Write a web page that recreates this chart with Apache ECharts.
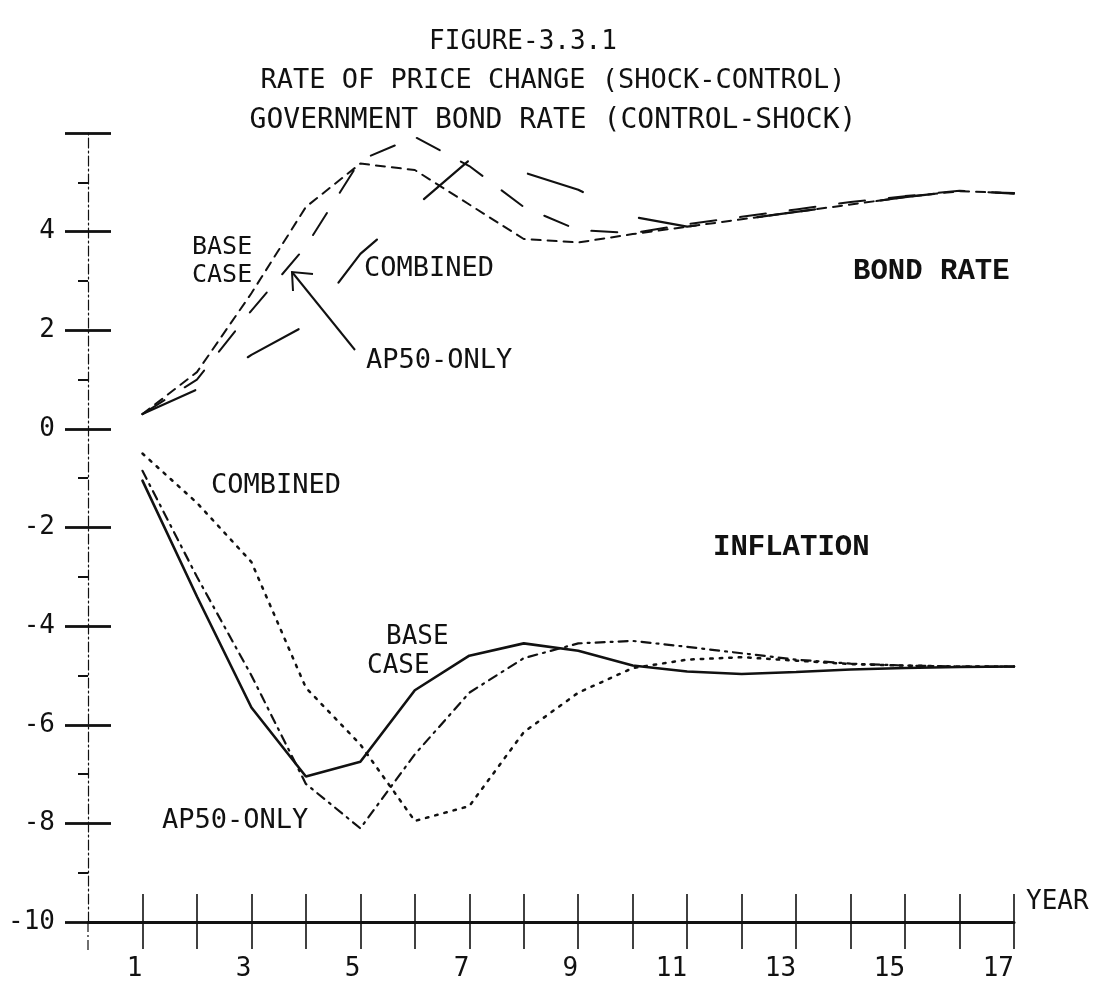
<!DOCTYPE html>
<html>
<head>
<meta charset="utf-8">
<script src="https://cdn.jsdelivr.net/npm/echarts@6/dist/echarts.min.js"></script>
<style>
html,body{margin:0;padding:0;background:#fff;}
#chart{width:1101px;height:984px;}
</style>
</head>
<body>
<div id="chart"></div>
<script>
// ---- data ----
const years = [1,2,3,4,5,6,7,8,9,10,11,12,13,14,15,16,17];
const xTickValues = [1,2,3,4,5,6,7,8,9,10,11,12,13,14,15,16,17];
const xLabelValues = [1,3,5,7,9,11,13,15,17];
const yLabelValues = [-10,-8,-6,-4,-2,0,2,4];

// Government bond rate (control - shock)
const bondBase     = [0.3, 1.15, 2.75, 4.5, 5.38, 5.25, 4.55, 3.85, 3.78, 3.95, 4.1, 4.25, 4.4, 4.55, 4.7, 4.82, 4.78];
const bondAp50     = [0.3, 1.0, 2.4, 3.7, 5.45, 5.92, 5.33, 4.5, 4.03, 3.97, 4.15, 4.3, 4.45, 4.6, 4.72, 4.83, 4.77];
const bondCombined = [0.3, 0.8, 1.5, 2.1, 3.55, 4.5, 5.45, 5.2, 4.85, 4.3, 4.1, 4.25, 4.4, 4.55, 4.7, 4.82, 4.78];

// Rate of price change (shock - control)
const infBase     = [-1.05, -3.4, -5.65, -7.05, -6.75, -5.3, -4.6, -4.35, -4.5, -4.8, -4.92, -4.97, -4.93, -4.88, -4.85, -4.83, -4.82];
const infAp50     = [-0.85, -3.0, -5.0, -7.2, -8.1, -6.6, -5.35, -4.65, -4.35, -4.3, -4.42, -4.55, -4.68, -4.76, -4.8, -4.82, -4.82];
const infCombined = [-0.5, -1.5, -2.7, -5.25, -6.4, -7.95, -7.65, -6.15, -5.35, -4.85, -4.68, -4.63, -4.7, -4.77, -4.8, -4.82, -4.82];

// ---- chart ----
const INK = '#111';
const PLOT = 'DejaVu Sans Mono, monospace';
const TYPE = 'Liberation Mono, Courier New, monospace';
const pairs = arr => years.map((x, i) => [x, arr[i]]);

function lineSeries(name, data, type, width) {
  return {
    name, type: 'line', data: pairs(data), xAxisIndex: 0, yAxisIndex: 0,
    showSymbol: false, symbol: 'none', clip: false, smooth: false,
    lineStyle: { color: INK, width: width, type: type, cap: 'round' },
    emphasis: { disabled: true }
  };
}

const chart = echarts.init(document.getElementById('chart'), null, { renderer: 'canvas' });

function ptext(text, x, y, size, font, weight) {
  return {
    type: 'text', x: x, y: y,
    style: { text: text, fill: INK, font: (weight || 'normal') + ' ' + size + 'px ' + font,
             textVerticalAlign: 'middle', textAlign: 'left' }
  };
}

const option = {
  backgroundColor: '#ffffff',
  animation: false,
  title: [
    { text: 'FIGURE-3.3.1', left: 518, top: 24, textAlign: 'center',
      textStyle: { fontFamily: PLOT, fontSize: 26, fontWeight: 'normal', color: INK } },
    { text: 'RATE OF PRICE CHANGE (SHOCK-CONTROL)', left: 548, top: 62, textAlign: 'center',
      textStyle: { fontFamily: PLOT, fontSize: 27, fontWeight: 'normal', color: INK } },
    { text: 'GOVERNMENT BOND RATE (CONTROL-SHOCK)', left: 548, top: 102, textAlign: 'center',
      textStyle: { fontFamily: PLOT, fontSize: 28, fontWeight: 'normal', color: INK } }
  ],
  grid: { left: 88, right: 87, top: 133, bottom: 62, containLabel: false },
  xAxis: [
    {
      type: 'value', min: 0, max: 17, interval: 1, position: 'bottom',
      axisLine: { show: true, onZero: false, lineStyle: { color: INK, width: 3 } },
      axisTick: { show: true, inside: false, length: 27, customValues: xTickValues,
                  lineStyle: { color: INK, width: 1.6 } },
      axisLabel: { show: true, customValues: xLabelValues, margin: 34, align: 'right',
                   fontFamily: PLOT, fontSize: 26, color: INK },
      splitLine: { show: false }
    },
    {
      type: 'value', min: 0, max: 17, interval: 1, position: 'bottom', offset: 0,
      axisLine: { show: false, onZero: false },
      axisTick: { show: true, inside: true, length: 28, customValues: xTickValues,
                  lineStyle: { color: INK, width: 1.6 } },
      axisLabel: { show: false },
      splitLine: { show: false }
    }
  ],
  yAxis: [
    {
      type: 'value', min: -10, max: 6, interval: 2, position: 'left',
      axisLine: { show: true, onZero: false, lineStyle: { color: INK, width: 1.2, type: [10, 3, 2, 3] } },
      axisTick: { show: true, inside: false, length: 23, lineStyle: { color: INK, width: 2.8 } },
      minorTick: { show: true, splitNumber: 2, length: 10, lineStyle: { color: INK, width: 2 } },
      axisLabel: { show: true, customValues: yLabelValues, margin: 33,
                   fontFamily: PLOT, fontSize: 26, color: INK,
                   formatter: v => (yLabelValues.indexOf(v) >= 0 ? String(v) : '') },
      splitLine: { show: false }, minorSplitLine: { show: false }
    },
    {
      type: 'value', min: -10, max: 6, interval: 2, position: 'left', offset: 0,
      axisLine: { show: false, onZero: false },
      axisTick: { show: true, inside: true, length: 23, lineStyle: { color: INK, width: 2.8 } },
      axisLabel: { show: false },
      splitLine: { show: false }
    }
  ],
  series: [
    lineSeries('Bond rate - base case', bondBase, [9, 7], 2),
    lineSeries('Bond rate - AP50-only', bondAp50, [26, 24], 2),
    lineSeries('Bond rate - combined', bondCombined, [58, 62], 2.2),
    lineSeries('Inflation - base case', infBase, 'solid', 2.6),
    lineSeries('Inflation - AP50-only', infAp50, [9, 6, 2, 6], 2.2),
    lineSeries('Inflation - combined', infCombined, [2.5, 7], 2.5)
  ],
  graphic: [
    ptext('BASE', 192, 247, 25, PLOT),
    ptext('CASE', 192, 275, 25, PLOT),
    ptext('COMBINED', 364, 269, 27, PLOT),
    ptext('AP50-ONLY', 366, 361, 27, PLOT),
    ptext('BOND RATE', 853, 272, 29, TYPE, 'bold'),
    ptext('INFLATION', 713, 548, 29, TYPE, 'bold'),
    ptext('COMBINED', 211, 486, 27, PLOT),
    ptext('BASE', 386, 637, 26, PLOT),
    ptext('CASE', 367, 666, 26, PLOT),
    ptext('AP50-ONLY', 162, 821, 27, PLOT),
    ptext('YEAR', 1026, 902, 26, PLOT),
    { type: 'polyline', shape: { points: [[355, 350], [292, 272]] },
      style: { stroke: INK, lineWidth: 2, fill: null } },
    { type: 'polyline', shape: { points: [[293, 291], [292, 272], [313, 274]] },
      style: { stroke: INK, lineWidth: 2, fill: null } },
    { type: 'polyline', shape: { points: [[88, 922], [88, 950]] },
      style: { stroke: INK, lineWidth: 1.2, fill: null, lineDash: [10, 3, 2, 3] } }
  ]
};
chart.setOption(option);
</script>
</body>
</html>
